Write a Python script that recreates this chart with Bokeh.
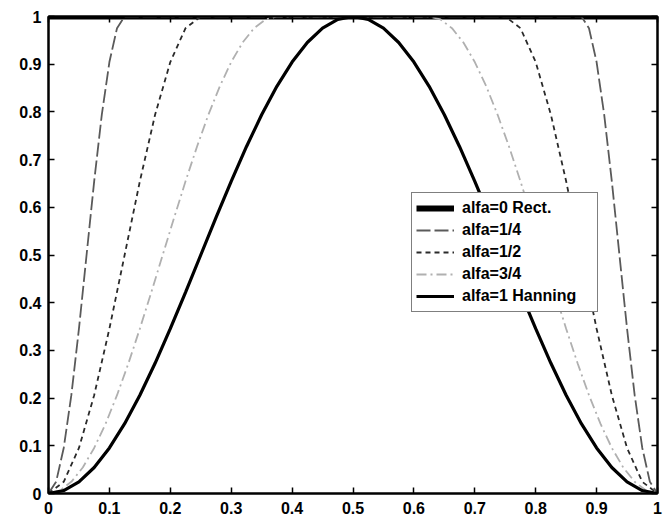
from bokeh.plotting import figure
from bokeh.models import Range1d, LinearAxis, FixedTicker, Legend, LegendItem
from bokeh.embed import file_html
from bokeh.resources import INLINE

# ---- data ----
x_rect = [0.0, 1.0]
y_rect = [1.0, 1.0]

x_q1 = [0, 0.0125, 0.025, 0.0375, 0.05, 0.0625, 0.075, 0.0875, 0.1, 0.1125, 0.125,
        0.875, 0.8875, 0.9, 0.9125, 0.925, 0.9375, 0.95, 0.9625, 0.975, 0.9875, 1.0]
y_q1 = [0, 0.0245, 0.0955, 0.2061, 0.3455, 0.5, 0.6545, 0.7939, 0.9045, 0.9755, 1.0,
        1.0, 0.9755, 0.9045, 0.7939, 0.6545, 0.5, 0.3455, 0.2061, 0.0955, 0.0245, 0]

x_q2 = [0, 0.025, 0.05, 0.075, 0.1, 0.125, 0.15, 0.175, 0.2, 0.225, 0.25,
        0.75, 0.775, 0.8, 0.825, 0.85, 0.875, 0.9, 0.925, 0.95, 0.975, 1.0]
y_q2 = [0, 0.0245, 0.0955, 0.2061, 0.3455, 0.5, 0.6545, 0.7939, 0.9045, 0.9755, 1.0,
        1.0, 0.9755, 0.9045, 0.7939, 0.6545, 0.5, 0.3455, 0.2061, 0.0955, 0.0245, 0]

x_q3 = [0, 0.0188, 0.0375, 0.0563, 0.075, 0.0938, 0.1125, 0.1313, 0.15, 0.1688, 0.1875,
        0.2063, 0.225, 0.2438, 0.2625, 0.2813, 0.3, 0.3188, 0.3375, 0.3563, 0.375,
        0.625, 0.6438, 0.6625, 0.6813, 0.7, 0.7188, 0.7375, 0.7563, 0.775, 0.7938,
        0.8125, 0.8313, 0.85, 0.8688, 0.8875, 0.9063, 0.925, 0.9438, 0.9625, 0.9813, 1.0]
y_q3 = [0, 0.0062, 0.0245, 0.0545, 0.0955, 0.1464, 0.2061, 0.2730, 0.3455, 0.4218, 0.5,
        0.5782, 0.6545, 0.7270, 0.7939, 0.8536, 0.9045, 0.9455, 0.9755, 0.9938, 1.0,
        1.0, 0.9938, 0.9755, 0.9455, 0.9045, 0.8536, 0.7939, 0.7270, 0.6545, 0.5782,
        0.5, 0.4218, 0.3455, 0.2730, 0.2061, 0.1464, 0.0955, 0.0545, 0.0245, 0.0062, 0]

x_hann = [0, 0.025, 0.05, 0.075, 0.1, 0.125, 0.15, 0.175, 0.2, 0.225, 0.25,
          0.275, 0.3, 0.325, 0.35, 0.375, 0.4, 0.425, 0.45, 0.475, 0.5,
          0.525, 0.55, 0.575, 0.6, 0.625, 0.65, 0.675, 0.7, 0.725, 0.75,
          0.775, 0.8, 0.825, 0.85, 0.875, 0.9, 0.925, 0.95, 0.975, 1.0]
y_hann = [0, 0.0062, 0.0245, 0.0545, 0.0955, 0.1464, 0.2061, 0.2730, 0.3455, 0.4218, 0.5,
          0.5782, 0.6545, 0.7270, 0.7939, 0.8536, 0.9045, 0.9455, 0.9755, 0.9938, 1.0,
          0.9938, 0.9755, 0.9455, 0.9045, 0.8536, 0.7939, 0.7270, 0.6545, 0.5782, 0.5,
          0.4218, 0.3455, 0.2730, 0.2061, 0.1464, 0.0955, 0.0545, 0.0245, 0.0062, 0]

legend_labels = ["alfa=0 Rect.", "alfa=1/4", "alfa=1/2", "alfa=3/4", "alfa=1 Hanning"]

x_ticks = [0, 0.1, 0.2, 0.3, 0.4, 0.5, 0.6, 0.7, 0.8, 0.9, 1]
x_tick_labels = ["0", "0.1", "0.2", "0.3", "0.4", "0.5", "0.6", "0.7", "0.8", "0.9", "1"]
y_ticks = [0, 0.1, 0.2, 0.3, 0.4, 0.5, 0.6, 0.7, 0.8, 0.9, 1]
y_tick_labels = ["0", "0.1", "0.2", "0.3", "0.4", "0.5", "0.6", "0.7", "0.8", "0.9", "1"]

FONT = "Liberation Sans"

p = figure(width=670, height=520, output_backend="svg", toolbar_location=None,
           x_range=Range1d(0, 1), y_range=Range1d(0, 1),
           x_axis_location=None, y_axis_location=None,
           min_border_left=48, min_border_right=13, min_border_top=16, min_border_bottom=27)
p.background_fill_color = "white"
p.border_fill_color = "white"
p.outline_line_color = "black"
p.outline_line_width = 2
p.xgrid.visible = False
p.ygrid.visible = False


def make_axis(ticks, labels, show_labels, standoff):
    if show_labels:
        overrides = {t: l for t, l in zip(ticks, labels)}
    else:
        overrides = {t: "" for t in ticks}
    ax = LinearAxis(ticker=FixedTicker(ticks=ticks), major_label_overrides=overrides)
    ax.axis_line_color = "black"
    ax.axis_line_width = 2
    ax.major_tick_in = 6
    ax.major_tick_out = 0
    ax.major_tick_line_width = 1.5
    ax.minor_tick_line_color = None
    ax.major_label_text_font = FONT
    ax.major_label_text_font_style = "bold"
    ax.major_label_text_color = "black"
    ax.major_label_text_font_size = "16px"
    ax.major_label_standoff = standoff
    return ax


p.add_layout(make_axis(x_ticks, x_tick_labels, True, 8), "below")
p.add_layout(make_axis(y_ticks, y_tick_labels, True, 7), "left")
p.add_layout(make_axis(x_ticks, x_tick_labels, False, 0), "above")
p.add_layout(make_axis(y_ticks, y_tick_labels, False, 0), "right")

r0 = p.line(x_rect, y_rect, line_color="black", line_width=6)
r1 = p.line(x_q1, y_q1, line_color="#5a5a5a", line_width=1.8, line_dash="14 4")
r2 = p.line(x_q2, y_q2, line_color="#2a2a2a", line_width=1.8, line_dash="5 4")
r3 = p.line(x_q3, y_q3, line_color="#b0b0b0", line_width=1.8, line_dash="10 4 2 4")
r4 = p.line(x_hann, y_hann, line_color="black", line_width=3.2)

items = [LegendItem(label=lab, renderers=[r]) for lab, r in zip(legend_labels, [r0, r1, r2, r3, r4])]
legend = Legend(items=items, location=(363, 181))
legend.border_line_color = "black"
legend.border_line_width = 1
legend.background_fill_color = "white"
legend.background_fill_alpha = 1
legend.label_text_font = FONT
legend.label_text_font_style = "bold"
legend.label_text_font_size = "16px"
legend.label_text_color = "black"
legend.glyph_width = 38
legend.glyph_height = 22
legend.label_height = 22
legend.label_width = 131
legend.label_standoff = 8
legend.spacing = 0
legend.padding = 4
legend.margin = 0
p.add_layout(legend, "center")

open("out.html", "w").write(file_html(p, INLINE))
